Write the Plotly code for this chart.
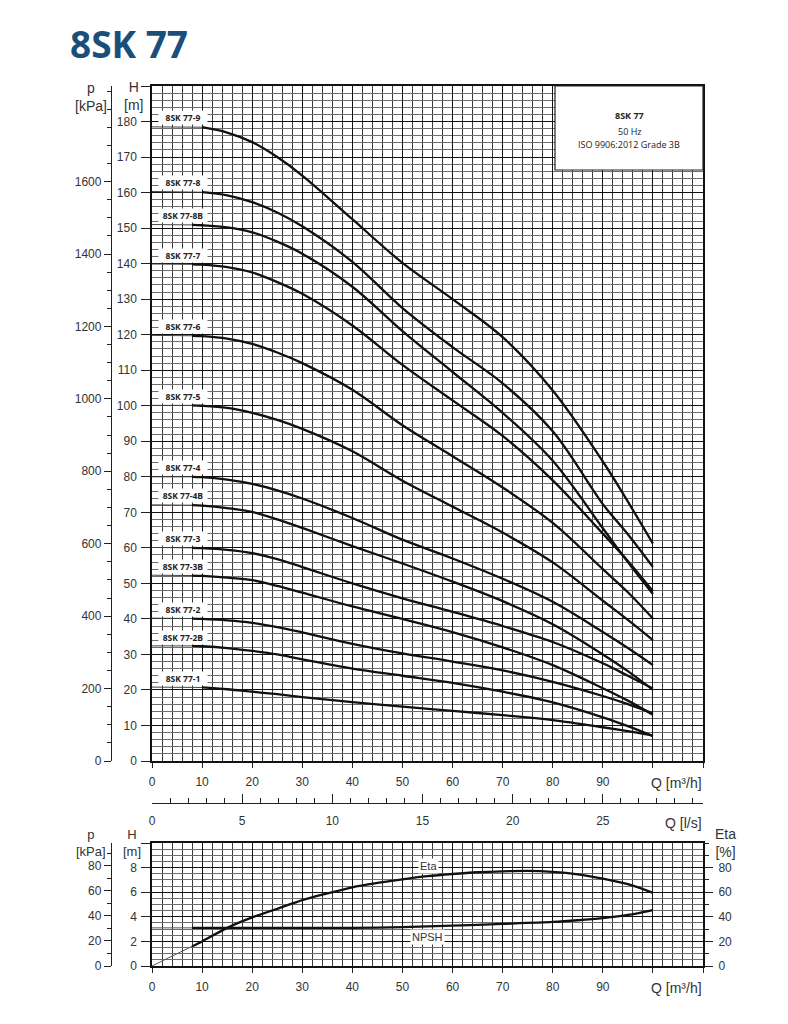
import plotly.graph_objects as go

# ---------------- data ----------------
Q_PTS = [0, 8, 10, 15, 20, 25, 30, 40, 50, 60, 70, 80, 90, 95, 100]

CURVE_NAMES = ["8SK 77-9", "8SK 77-8", "8SK 77-8B", "8SK 77-7", "8SK 77-6", "8SK 77-5",
               "8SK 77-4", "8SK 77-4B", "8SK 77-3", "8SK 77-3B", "8SK 77-2", "8SK 77-2B", "8SK 77-1"]
CURVE_START_Q = [10, 10, 8, 8, 8, 8, 8, 8, 8, 8, 8, 8, 10]

H_77_9 = [178.5, 178.5, 178.4, 176.9, 174.2, 170.0, 164.8, 152.5, 140.2, 130.0, 119.3, 104.3, 84.3, 73.0, 61.2]
H_77_8 = [160.3, 160.3, 160.1, 159.2, 157.3, 154.4, 150.5, 140.5, 127.5, 116.5, 106.3, 92.8, 72.3, 63.8, 54.6]
H_77_8B = [151.0, 150.9, 150.8, 150.2, 148.8, 146.2, 142.8, 133.5, 121.0, 109.5, 98.0, 84.5, 65.5, 56.0, 47.0]
H_77_7 = [139.9, 139.8, 139.7, 139.0, 137.5, 134.8, 131.5, 122.6, 111.5, 101.5, 91.5, 79.0, 64.0, 56.3, 47.8]
H_77_6 = [119.8, 119.7, 119.6, 118.9, 117.4, 115.0, 112.0, 104.5, 94.5, 85.8, 77.0, 67.0, 54.0, 47.5, 40.1]
H_77_5 = [100.1, 100.1, 100.0, 99.4, 98.0, 96.0, 93.5, 87.2, 78.9, 71.6, 64.3, 55.9, 45.1, 39.7, 34.0]
H_77_4 = [80.0, 80.0, 79.9, 79.2, 78.0, 76.2, 73.9, 68.4, 62.3, 57.0, 51.3, 44.8, 36.3, 31.8, 27.0]
H_77_4B = [72.1, 72.0, 71.9, 71.2, 70.1, 68.0, 65.6, 60.5, 55.6, 50.5, 45.0, 38.5, 30.0, 25.3, 20.0]
H_77_3 = [60.1, 60.0, 59.9, 59.4, 58.5, 56.8, 54.6, 50.0, 45.8, 42.0, 38.0, 33.5, 27.5, 24.0, 20.4]
H_77_3B = [52.3, 52.2, 52.1, 51.6, 50.9, 49.3, 47.4, 43.5, 40.0, 36.3, 32.0, 27.0, 20.5, 17.0, 13.0]
H_77_2 = [40.2, 40.1, 40.0, 39.6, 38.9, 37.7, 36.2, 33.0, 30.3, 28.0, 25.5, 22.3, 18.3, 16.0, 13.4]
H_77_2B = [32.4, 32.4, 32.3, 31.8, 31.0, 30.0, 28.6, 26.0, 24.0, 22.0, 19.5, 16.5, 12.3, 9.8, 7.0]
H_77_1 = [20.8, 20.8, 20.7, 20.2, 19.5, 18.8, 18.0, 16.6, 15.3, 14.1, 12.9, 11.5, 9.5, 8.4, 7.2]

CURVE_HEADS = [H_77_9, H_77_8, H_77_8B, H_77_7, H_77_6, H_77_5, H_77_4, H_77_4B,
               H_77_3, H_77_3B, H_77_2, H_77_2B, H_77_1]

ETA_Q = [0, 5, 8, 10, 15, 20, 25, 30, 35, 40, 45, 50, 55, 60, 65, 70, 75, 80, 85, 90, 95, 100]
ETA = [0, 10, 16, 20, 31, 39.5, 46.5, 53.6, 59, 64, 67.5, 70.5, 73, 74.8, 76.2, 77, 77.3, 76.5, 74.5, 71, 66.5, 59.5]
ETA_START_Q = 8

NPSH_Q = [0, 8, 20, 30, 40, 50, 60, 70, 80, 85, 90, 95, 100]
NPSH = [3.1, 3.1, 3.1, 3.1, 3.1, 3.16, 3.28, 3.42, 3.58, 3.72, 3.9, 4.15, 4.55]
NPSH_START_Q = 8

X_TICKS = [0, 10, 20, 30, 40, 50, 60, 70, 80, 90, 100, 110]
X_TICK_TEXT = ["0", "10", "20", "30", "40", "50", "60", "70", "80", "90", "", ""]
H_TICKS = list(range(0, 200, 10))
H_TICK_TEXT = [str(v) for v in range(0, 190, 10)] + [""]
P_TICKS = [0, 200, 400, 600, 800, 1000, 1200, 1400, 1600]
LS_TICKS = [0, 5, 10, 15, 20, 25]
H2_TICKS = [0, 2, 4, 6, 8, 10]
H2_TICK_TEXT = ["0", "2", "4", "6", "8", ""]
P2_TICKS = [0, 20, 40, 60, 80]
ETA_TICKS = [0, 20, 40, 60, 80]

TITLE = "8SK 77"
INFO_LINES = ["<b>8SK 77</b>", "50 Hz", "ISO 9906:2012 Grade 3B"]

# ---------------- layout helpers ----------------
OFF = 8                      # page body margin
W, H = 780, 1016
ML, MR, MT, MB = 52, 85, 78, 58
PW = W - ML - MR
PH = H - MT - MB


def px_x(x):
    return (x - OFF - ML) / PW


def px_y(y):
    return (H - MB - (y - OFF)) / PH


G = 9.81
H_MAX = 190
H2_MAX = 10
Q_MAX = 110

TXT = "#333333"
FONT = "Liberation Sans, Arial, sans-serif"

fig = go.Figure()

# main curves
for name, q0, heads in zip(CURVE_NAMES, CURVE_START_Q, CURVE_HEADS):
    i0 = Q_PTS.index(q0)
    fig.add_trace(go.Scatter(x=Q_PTS[:i0 + 1], y=heads[:i0 + 1], mode="lines",
                             line=dict(color="#444444", width=1), xaxis="x", yaxis="y",
                             hoverinfo="skip", showlegend=False))
    fig.add_trace(go.Scatter(x=Q_PTS[i0:], y=heads[i0:], mode="lines", name=name,
                             line=dict(color="#111111", width=2.3, shape="spline", smoothing=1.0),
                             xaxis="x", yaxis="y", showlegend=False))

# secondary l/s axis carrier
fig.add_trace(go.Scatter(x=[0, Q_MAX / 3.6], y=[None, None], mode="lines", xaxis="x3", yaxis="y",
                         showlegend=False, hoverinfo="skip"))
# p axis carriers
fig.add_trace(go.Scatter(x=[None], y=[None], xaxis="x", yaxis="y3", showlegend=False, hoverinfo="skip"))
fig.add_trace(go.Scatter(x=[None], y=[None], xaxis="x2", yaxis="y4", showlegend=False, hoverinfo="skip"))

# Eta
ie = ETA_Q.index(ETA_START_Q)
fig.add_trace(go.Scatter(x=ETA_Q[:ie + 1], y=ETA[:ie + 1], mode="lines",
                         line=dict(color="#555555", width=1), xaxis="x2", yaxis="y5",
                         showlegend=False, hoverinfo="skip"))
fig.add_trace(go.Scatter(x=ETA_Q[ie:], y=ETA[ie:], mode="lines", name="Eta",
                         line=dict(color="#111111", width=2.3, shape="spline", smoothing=0.8),
                         xaxis="x2", yaxis="y5", showlegend=False))
# NPSH
inp = NPSH_Q.index(NPSH_START_Q)
fig.add_trace(go.Scatter(x=NPSH_Q[:inp + 1], y=NPSH[:inp + 1], mode="lines",
                         line=dict(color="#555555", width=1), xaxis="x2", yaxis="y2",
                         showlegend=False, hoverinfo="skip"))
fig.add_trace(go.Scatter(x=NPSH_Q[inp:], y=NPSH[inp:], mode="lines", name="NPSH",
                         line=dict(color="#111111", width=2.3, shape="spline", smoothing=0.8),
                         xaxis="x2", yaxis="y2", showlegend=False))

tickfont = dict(family=FONT, size=12, color=TXT)
xdom = [px_x(152), 1.0]
main_dom = [px_y(761), 1.0]
bot_dom = [0.0, px_y(843)]
p_pos = px_x(111)

common_x = dict(range=[0, Q_MAX], tickmode="array", tickvals=X_TICKS, ticktext=X_TICK_TEXT,
                showgrid=True, gridcolor="#111111", gridwidth=1.4,
                minor=dict(tickmode="linear", tick0=0, dtick=2, showgrid=True, gridcolor="#3a3a3a",
                           gridwidth=1, ticks=""),
                ticks="outside", ticklen=5, tickcolor="#222", tickfont=tickfont,
                showline=True, linecolor="#111", linewidth=1.5, mirror=True, zeroline=False,
                fixedrange=True, ticklabelstandoff=4)

fig.update_layout(
    width=W, height=H, margin=dict(l=ML, r=MR, t=MT, b=MB),
    paper_bgcolor="white", plot_bgcolor="white", showlegend=False,
    xaxis=dict(domain=xdom, anchor="y", **common_x),
    yaxis=dict(domain=main_dom, anchor="x", range=[0, H_MAX], tickmode="array", tickvals=H_TICKS,
               ticktext=H_TICK_TEXT, showgrid=True, gridcolor="#111111", gridwidth=1.4,
               minor=dict(tickmode="linear", tick0=0, dtick=2, showgrid=True, gridcolor="#6e6e6e",
                          gridwidth=1, ticks=""),
               ticks="outside", ticklen=9, tickcolor="#222", tickfont=tickfont,
               showline=True, linecolor="#111", linewidth=1.5, mirror=True, zeroline=False,
               fixedrange=True, ticklabelstandoff=2),
    yaxis3=dict(overlaying="y", anchor="free", position=p_pos, side="left",
                range=[0, H_MAX * G], tickmode="array", tickvals=P_TICKS, showgrid=False,
                ticks="outside", ticklen=7, tickcolor="#222", tickfont=tickfont,
                minor=dict(tickmode="linear", tick0=0, dtick=50, ticks="outside", ticklen=4,
                           tickcolor="#222", showgrid=False),
                showline=True, linecolor="#222", linewidth=1.3, zeroline=False, fixedrange=True),
    xaxis3=dict(overlaying="x", anchor="free", position=px_y(803), side="bottom",
                range=[0, Q_MAX / 3.6], tickmode="array", tickvals=LS_TICKS, showgrid=False,
                ticks="inside", ticklen=9, tickcolor="#222", tickfont=tickfont,
                minor=dict(tickmode="linear", tick0=0, dtick=1, ticks="inside", ticklen=5,
                           tickcolor="#222", showgrid=False),
                showline=True, linecolor="#222", linewidth=1.3, zeroline=False, fixedrange=True,
                ticklabelstandoff=6),
    xaxis2=dict(domain=xdom, anchor="y2", **common_x),
    yaxis2=dict(domain=bot_dom, anchor="x2", range=[0, H2_MAX], tickmode="array", tickvals=H2_TICKS,
                ticktext=H2_TICK_TEXT, showgrid=True, gridcolor="#111111", gridwidth=1.4,
                minor=dict(tickmode="linear", tick0=0, dtick=0.5, showgrid=True, gridcolor="#6e6e6e",
                           gridwidth=1, ticks=""),
                ticks="outside", ticklen=9, tickcolor="#222", tickfont=tickfont,
                showline=True, linecolor="#111", linewidth=1.5, mirror=True, zeroline=False,
                fixedrange=True, ticklabelstandoff=2),
    yaxis4=dict(overlaying="y2", anchor="free", position=p_pos, side="left",
                range=[0, H2_MAX * G], tickmode="array", tickvals=P2_TICKS, showgrid=False,
                ticks="outside", ticklen=7, tickcolor="#222", tickfont=tickfont,
                minor=dict(tickmode="linear", tick0=0, dtick=10, ticks="outside", ticklen=4,
                           tickcolor="#222", showgrid=False),
                showline=True, linecolor="#222", linewidth=1.3, zeroline=False, fixedrange=True),
    yaxis5=dict(overlaying="y2", anchor="x2", side="right", range=[0, 100], tickmode="array",
                tickvals=ETA_TICKS, showgrid=False, ticks="outside", ticklen=9, tickcolor="#222",
                tickfont=tickfont,
                minor=dict(tickmode="linear", tick0=0, dtick=10, ticks="outside", ticklen=5,
                           tickcolor="#222", showgrid=False),
                showline=False, zeroline=False, fixedrange=True, ticklabelstandoff=3),
)

ann = []
# curve labels
for name, heads in zip(CURVE_NAMES, CURVE_HEADS):
    ann.append(dict(x=6.2, y=heads[0] + 2.5, xref="x", yref="y", text="<b>" + name + "</b>",
                    showarrow=False, bgcolor="white", borderpad=0, width=48, height=13,
                    xanchor="center", yanchor="middle",
                    font=dict(family="Open Sans, sans-serif", size=8.5, color="#222")))
# Eta / NPSH labels
ann.append(dict(x=55.2, y=81, xref="x2", yref="y5", text="Eta", showarrow=False, bgcolor="white",
                borderpad=1, xanchor="center", yanchor="middle",
                font=dict(family=FONT, size=11, color=TXT)))
ann.append(dict(x=55, y=2.34, xref="x2", yref="y2", text="NPSH", showarrow=False, bgcolor="white",
                borderpad=1, xanchor="center", yanchor="middle",
                font=dict(family=FONT, size=11, color=TXT)))
# info box text
for txt, yy in zip(INFO_LINES, [116, 131, 145]):
    ann.append(dict(x=px_x(629), y=px_y(yy), xref="paper", yref="paper", text=txt, showarrow=False,
                    xanchor="center", yanchor="middle",
                    font=dict(family="Open Sans, sans-serif", size=9, color="#222")))
# title
ann.append(dict(x=px_x(68), y=px_y(43), xref="paper", yref="paper", text="<b>" + TITLE + "</b>",
                showarrow=False, xanchor="left", yanchor="middle",
                font=dict(family="Open Sans, sans-serif", size=37, color="#1a4f7c")))
# axis titles
axis_titles = [
    ("p<br>[kPa]", 91, 97, 14), ("H<br>[m]", 133, 96, 14),
    ("p<br>[kPa]", 91, 843, 13), ("H<br>[m]", 132, 843, 13), ("Eta<br>[%]", 725, 843, 14),
]
for txt, xx, yy, fs in axis_titles:
    ann.append(dict(x=px_x(xx), y=px_y(yy), xref="paper", yref="paper", text=txt, showarrow=False,
                    align="center", xanchor="center", yanchor="middle",
                    font=dict(family=FONT, size=fs, color=TXT)))
for txt, yy in [("Q [m³/h]", 783), ("Q [l/s]", 823), ("Q [m³/h]", 988)]:
    ann.append(dict(x=px_x(704), y=px_y(yy), xref="paper", yref="paper", text=txt, showarrow=False,
                    xanchor="right", yanchor="middle", font=dict(family=FONT, size=14, color=TXT)))
fig.update_layout(annotations=ann)

# info box
fig.add_shape(type="rect", xref="paper", yref="paper", x0=px_x(555), x1=px_x(703),
              y0=px_y(170), y1=px_y(86), fillcolor="white", line=dict(color="#222", width=1.2),
              layer="above")

fig.write_html("out.html")
